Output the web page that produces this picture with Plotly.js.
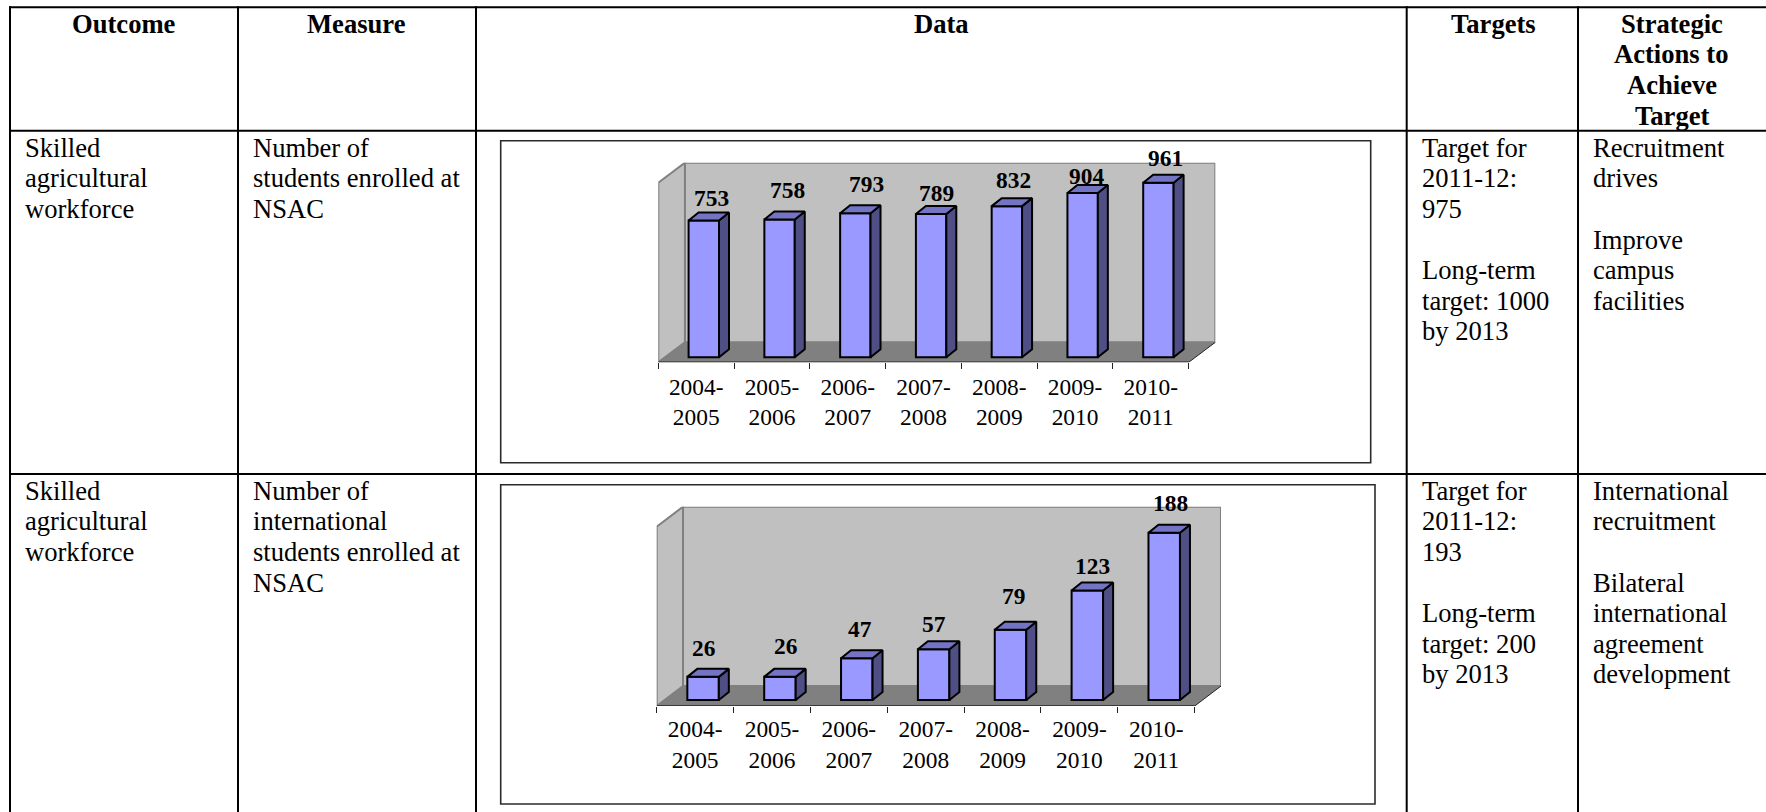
<!DOCTYPE html>
<html>
<head>
<meta charset="utf-8">
<title>NSAC enrolment scorecard</title>
<script src="https://cdn.plot.ly/plotly-3.0.1.min.js"></script>
<style>html,body{margin:0;padding:0;background:#fff}#chart{width:1766px;height:812px}</style>
</head>
<body>
<div id="chart"></div>
<script>
// Academic years shared by both bar charts
const years = ['2004-<br>2005','2005-<br>2006','2006-<br>2007','2007-<br>2008','2008-<br>2009','2009-<br>2010','2010-<br>2011'];
const allStudents = [753,758,793,789,832,904,961];
const internationalStudents = [26,26,47,57,79,123,188];

// Table text, one entry per line; empty strings are blank lines
const headerOutcome = ['Outcome'];
const headerMeasure = ['Measure'];
const headerData = ['Data'];
const headerTargets = ['Targets'];
const headerActions = ['Strategic','Actions to','Achieve','Target'];
const outcomeText = ['Skilled','agricultural','workforce'];
const measureRow1 = ['Number of','students enrolled at','NSAC'];
const measureRow2 = ['Number of','international','students enrolled at','NSAC'];
const targetsRow1 = ['Target for','2011-12:','975','','Long-term','target: 1000','by 2013'];
const targetsRow2 = ['Target for','2011-12:','193','','Long-term','target: 200','by 2013'];
const actionsRow1 = ['Recruitment','drives','','Improve','campus','facilities'];
const actionsRow2 = ['International','recruitment','','Bilateral','international','agreement','development'];

// Pixel nudges of the value labels relative to each bar's top
const labelShift1 = {x:[15.5,16,18.3,12.5,14.7,11,14.9], y:[22.8,29.6,29.2,21,26,17.3,25]};
const labelShift2 = {x:[8.9,14,10.9,8,11.4,12.6,14], y:[29.2,31.2,28.9,25.3,34,24.8,29.4]};

const W = 1766, H = 812;
const SERIF = '"Liberation Serif","Times New Roman",serif';
const FACE = '#9999FF', TOP = '#7474C4', SIDE = '#4F4F86', WALL = '#C0C0C0', FLOOR = '#808080', EDGE = '#808080';

const traces = [], shapes = [], annotations = [];
const layout = {
  width: W, height: H, margin: {l:0, r:0, t:0, b:0}, showlegend: false,
  paper_bgcolor: '#fff', plot_bgcolor: 'rgba(0,0,0,0)', hovermode: false,
  bargap: 0, shapes, annotations
};

function polyPath(pts) {
  return 'M' + pts.map(p => p[0] + ',' + p[1]).join('L') + 'Z';
}

// One pseudo-3D column chart on its own pair of axes
function addChart(n, values, g, shift) {
  const suffix = n === 1 ? '' : String(n);
  const xref = 'x' + suffix, yref = 'y' + suffix;
  const cat = (g.frontRight - g.frontLeft) / values.length;
  const ypx = g.scale;
  const xUnit = px => px / cat;
  const yUnit = px => px / ypx;
  const xMin = -0.5, xMax = xMin + (g.frontRight + g.depthX - g.frontLeft) / cat;
  const yMin = -(g.floorY - g.zeroY) / ypx, yMax = (g.zeroY - g.wallTop) / ypx;
  const xFront = xMin + (g.frontRight - g.frontLeft) / cat;
  const xBack = xMin + xUnit(g.depthX);
  const yBack = yMin + yUnit(g.depthY);
  const yTopFront = yMax - yUnit(g.depthY);

  layout['xaxis' + suffix] = {
    domain: [g.frontLeft / W, (g.frontRight + g.depthX) / W],
    range: [xMin, xMax], anchor: yref, fixedrange: true,
    showgrid: false, zeroline: false, showline: false, ticks: '',
    tickmode: 'array', tickvals: values.map((_, i) => i), ticktext: years,
    ticklabelstandoff: g.standoff, tickangle: 0,
    tickfont: {family: SERIF, size: 23.4, color: '#000'},
    minor: {tickmode: 'array', tickvals: values.map((_, i) => i - 0.5).concat([values.length - 0.5]),
            ticks: 'outside', ticklen: 6, tickwidth: 1, tickcolor: '#222', showgrid: false}
  };
  layout['yaxis' + suffix] = {
    domain: [1 - g.floorY / H, 1 - g.wallTop / H],
    range: [yMin, yMax], anchor: xref, fixedrange: true, visible: false
  };

  // Walls and floor of the 3D box
  const wall = {type: 'path', xref, yref, layer: 'below', fillcolor: WALL, line: {color: EDGE, width: 2}};
  shapes.push(Object.assign({}, wall, {path: polyPath([[xBack,yBack],[xMax,yBack],[xMax,yMax],[xBack,yMax]])}));
  shapes.push(Object.assign({}, wall, {path: polyPath([[xMin,yMin],[xBack,yBack],[xBack,yMax],[xMin,yTopFront]])}));
  shapes.push({type: 'path', xref, yref, layer: 'below', fillcolor: FLOOR, line: {width: 0},
               path: polyPath([[xMin,yMin],[xFront,yMin],[xMax,yBack],[xBack,yBack]])});
  shapes.push({type: 'line', xref, yref, layer: 'above', x0: xMin, x1: xFront, y0: yMin, y1: yMin,
               line: {color: '#222', width: 1.4}});
  shapes.push({type: 'line', xref, yref, layer: 'above', x0: xFront, x1: xMax, y0: yMin, y1: yBack,
               line: {color: '#222', width: 1}});

  // Front faces of the columns
  const barW = xUnit(g.barPx), barOff = xUnit(g.barLeft);
  traces.push({
    type: 'bar', x: values.map((_, i) => i), y: values, xaxis: xref, yaxis: yref,
    width: barW, offset: barOff,
    marker: {color: FACE, line: {color: '#000', width: 2}}, hoverinfo: 'skip'
  });

  // Side and top faces, extruded from each column value
  const dx = xUnit(10), dy = yUnit(8);
  const sideX = [], sideY = [], topX = [], topY = [];
  values.forEach((v, i) => {
    const l = i + barOff, r = l + barW;
    sideX.push(r, r + dx, r + dx, r, r, null);
    sideY.push(0, dy, v + dy, v, 0, null);
    topX.push(l, r, r + dx, l + dx, l, null);
    topY.push(v, v, v + dy, v + dy, v, null);
  });
  [[sideX, sideY, SIDE], [topX, topY, TOP]].forEach(([sx, sy, c]) => traces.push({
    type: 'scatter', mode: 'lines', x: sx, y: sy, xaxis: xref, yaxis: yref, fill: 'toself', fillcolor: c,
    line: {color: '#000', width: 2}, cliponaxis: false, hoverinfo: 'skip', connectgaps: false
  }));

  // Value labels
  values.forEach((v, i) => annotations.push({
    xref, yref, x: i, y: v, text: '<b>' + v + '</b>', showarrow: false,
    xanchor: 'center', yanchor: 'middle', xshift: shift.x[i], yshift: shift.y[i],
    font: {family: SERIF, size: 23.4, color: '#000'}
  }));

  // Chart frame
  shapes.push({type: 'rect', xref: 'paper', yref: 'paper', layer: 'below',
               x0: g.frame[0] / W, x1: g.frame[1] / W, y0: 1 - g.frame[2] / H, y1: 1 - g.frame[3] / H,
               line: {color: '#2b2b2b', width: 1.6}, fillcolor: 'rgba(0,0,0,0)'});
}

addChart(1, allStudents, {
  frontLeft: 658.3, frontRight: 1188.7, depthX: 26.6, depthY: 20,
  floorY: 362.3, zeroY: 357.3, wallTop: 162.7, scale: 0.1817,
  barPx: 30.4, barLeft: -7.6, standoff: 8, frame: [500.7, 1370.7, 140.8, 462.7]
}, labelShift1);

addChart(2, internationalStudents, {
  frontLeft: 656.7, frontRight: 1194.7, depthX: 26.3, depthY: 20,
  floorY: 706, zeroY: 700, wallTop: 506.7, scale: 0.89,
  barPx: 31.5, barLeft: -7.8, standoff: 7, frame: [500.7, 1375, 484.7, 804]
}, labelShift2);

// Table rules
const rule = (x0, y0, x1, y1) => shapes.push({type: 'line', xref: 'paper', yref: 'paper', layer: 'above',
  x0: x0 / W, x1: x1 / W, y0: 1 - y0 / H, y1: 1 - y1 / H, line: {color: '#000', width: 2}});
[10, 238, 476, 1406.7, 1578].forEach(x => rule(x, 6.3, x, H));
[7.3, 130.8, 474].forEach(y => rule(9, y, W, y));

// Table cell text, placed line by line
const LEAD = 30.6;
function block(lines, x, y, anchor, bold) {
  lines.forEach((t, i) => {
    if (!t) return;
    annotations.push({
      xref: 'paper', yref: 'paper', x: x / W, y: 1 - (y + i * LEAD) / H,
      text: bold ? '<b>' + t + '</b>' : t, showarrow: false, xanchor: anchor, yanchor: 'middle',
      borderpad: 0, font: {family: SERIF, size: 26.6, color: '#000'}
    });
  });
}
block(headerOutcome, 123.5, 23.7, 'center', true);
block(headerMeasure, 356.5, 23.7, 'center', true);
block(headerData, 941.6, 23.7, 'center', true);
block(headerTargets, 1493.5, 23.7, 'center', true);
block(headerActions, 1671.7, 23.7, 'center', true);
[[147.8, outcomeText, measureRow1, targetsRow1, actionsRow1],
 [490.8, outcomeText, measureRow2, targetsRow2, actionsRow2]].forEach(([y, a, b, c, d]) => {
  block(a, 23.5, y, 'left');
  block(b, 251.5, y, 'left');
  block(c, 1421, y, 'left');
  block(d, 1592, y, 'left');
});

Plotly.newPlot('chart', traces, layout, {displayModeBar: false, staticPlot: true});
</script>
</body>
</html>
